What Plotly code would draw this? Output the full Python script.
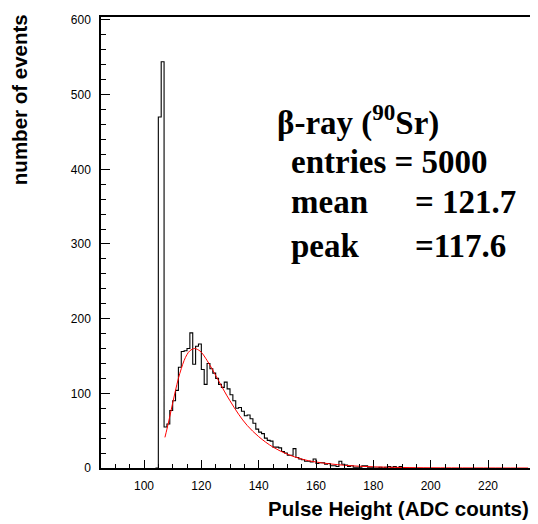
import plotly.graph_objects as go

# histogram: 1 ADC count wide bins, first bin starts at hist_start
hist_start = 104
counts = [0, 470, 544, 55, 59, 77, 90, 104, 135, 156, 157, 160, 181, 139, 163, 166,
          132, 112, 140, 133, 127, 120, 112, 108, 115, 106, 98, 90, 80, 81, 76, 70,
          71, 66, 60, 52, 48, 46, 40, 37, 36, 28, 28, 27, 22, 20, 17, 17, 26, 14,
          12, 11, 9, 9, 8, 12, 6, 7, 7, 5, 6, 3, 3, 2, 9, 5, 4, 2, 3, 1, 1, 1, 3,
          3, 1, 1, 0, 0, 1, 0, 1, 2, 1, 2, 0, 2, 0]

# fitted curve (red)
fit_x = [107.3, 108, 109, 110, 111, 112, 113, 114, 115, 116, 117.6, 119, 120, 122, 124,
         126, 128, 130, 133, 136, 140, 145, 150, 155, 160, 170, 180, 190, 200, 215, 234]
fit_y = [41, 52, 69, 87, 104, 120, 133, 144, 152, 157, 160, 158, 155, 144, 131,
         117, 103, 90, 72, 57, 42, 28, 18.5, 12, 8, 3.6, 1.6, 0.7, 0.3, 0.1, 0]

stats_lines = ['β-ray (<sup>90</sup>Sr)', 'entries = 5000', 'mean', 'peak']
stats_values = ['', '', '= 121.7', '=117.6']

edges = [hist_start + i for i in range(len(counts) + 1)]

fig = go.Figure()
fig.add_trace(go.Scatter(
    x=edges,
    y=counts + [counts[-1]],
    mode='lines',
    line_shape='hv',
    line=dict(color='black', width=1.1),
    hoverinfo='skip'))
fig.add_trace(go.Scatter(
    x=fit_x,
    y=fit_y,
    mode='lines',
    line_shape='spline',
    line=dict(color='red', width=1),
    hoverinfo='skip'))

tick_font = dict(family='Liberation Sans', size=12, color='black')
fig.update_xaxes(range=[85, 235], tick0=100, dtick=20, ticks='inside', ticklen=8,
    tickcolor='black', tickwidth=1, showline=True, linecolor='black', linewidth=1.5,
    mirror=True, showgrid=False, zeroline=False, tickfont=tick_font,
    ticklabelstandoff=6,
    minor=dict(dtick=5, ticks='inside', ticklen=4, tickcolor='black', tickwidth=1))
fig.update_yaxes(range=[0, 604], tick0=0, dtick=100, ticks='inside', ticklen=9,
    tickcolor='black', tickwidth=1, showline=True, linecolor='black', linewidth=1.5,
    mirror=True, showgrid=False, zeroline=False, tickfont=tick_font,
    ticklabelstandoff=6,
    minor=dict(dtick=20, ticks='inside', ticklen=5, tickcolor='black', tickwidth=1))

title_font = dict(family='Liberation Sans', size=20.5, color='black')
fig.add_annotation(text='<b>Pulse Height (ADC counts)</b>', xref='paper', yref='paper',
    x=1.0, y=-0.089, xanchor='right', yanchor='middle', showarrow=False, font=title_font)
fig.add_annotation(text='<b>number of events</b>', xref='paper', yref='paper',
    x=-0.188, y=1.01, xanchor='center', yanchor='top', textangle=-90,
    showarrow=False, font=title_font)

serif = dict(family='Liberation Serif', size=33, color='black')
line_y = [118, 160, 200, 245]
line_x = [276, 290, 290, 290]
for txt, val, yy, xx in zip(stats_lines, stats_values, line_y, line_x):
    fig.add_annotation(text='<b>' + txt + '</b>', xref='paper', yref='paper',
        x=(xx - 101) / 432, y=(467.7 - yy) / 453.4, xanchor='left', yanchor='middle',
        showarrow=False, font=serif)
    if val:
        fig.add_annotation(text='<b>' + val + '</b>', xref='paper', yref='paper',
            x=(414 - 101) / 432, y=(467.7 - yy) / 453.4, xanchor='left',
            yanchor='middle', showarrow=False, font=serif)

# page body keeps an 8px margin, so the figure is 8px smaller than the window
fig.update_layout(width=530, height=516, margin=dict(l=93, r=5, t=6, b=56, pad=0),
    plot_bgcolor='white', paper_bgcolor='white', showlegend=False)
fig.write_html('out.html')
